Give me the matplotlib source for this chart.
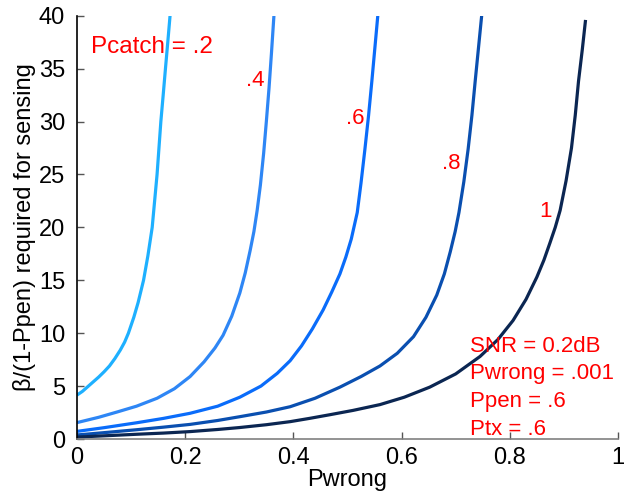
import matplotlib
matplotlib.use("Agg")
import matplotlib.pyplot as plt

plt.rcParams['font.family'] = ['Liberation Sans', 'DejaVu Sans']

# Data
pcatch_labels = ["Pcatch = .2", ".4", ".6", ".8", "1"]

x_02 = [0.0, 0.01, 0.02, 0.03, 0.04, 0.05, 0.06, 0.07, 0.08, 0.088, 0.095, 0.105, 0.113,
        0.123, 0.131, 0.139, 0.1435, 0.148, 0.1515, 0.155, 0.1593, 0.1635, 0.1678, 0.172]
y_02 = [4.15, 4.5, 4.95, 5.4, 5.85, 6.35, 6.9, 7.6, 8.4, 9.15, 10.0, 11.5, 12.9,
        15.0, 17.3, 20.0, 22.5, 25.0, 27.5, 30.0, 32.5, 35.0, 37.5, 40.0]

x_04 = [0.0, 0.04, 0.074, 0.11, 0.148, 0.18, 0.209, 0.235, 0.255, 0.270, 0.286, 0.301,
        0.311, 0.320, 0.327, 0.333, 0.339, 0.345, 0.350, 0.355, 0.3595, 0.364]
y_04 = [1.55, 2.05, 2.55, 3.1, 3.85, 4.75, 5.9, 7.3, 8.6, 9.8, 11.6, 13.8,
        15.7, 17.8, 19.6, 21.6, 24.0, 27.0, 30.0, 33.2, 36.5, 40.0]

x_06 = [0.0, 0.05, 0.111, 0.16, 0.209, 0.26, 0.301, 0.34, 0.37, 0.394, 0.415, 0.435,
        0.455, 0.471, 0.486, 0.497, 0.507, 0.518, 0.525, 0.532, 0.539, 0.545, 0.5505, 0.556]
y_06 = [0.72, 1.07, 1.54, 1.95, 2.43, 3.1, 3.95, 5.0, 6.2, 7.4, 8.8, 10.4,
        12.2, 13.9, 15.6, 17.2, 18.9, 21.4, 24.2, 27.3, 30.6, 33.8, 36.9, 40.0]

x_08 = [0.0, 0.05, 0.111, 0.16, 0.209, 0.26, 0.30, 0.35, 0.394, 0.44, 0.486, 0.525, 0.560,
        0.592, 0.622, 0.645, 0.665, 0.679, 0.690, 0.699, 0.706, 0.715, 0.723, 0.730,
        0.736, 0.742, 0.748]
y_08 = [0.38, 0.6, 0.88, 1.12, 1.38, 1.75, 2.1, 2.55, 3.05, 3.85, 4.9, 5.9, 6.9,
        8.1, 9.67, 11.5, 13.6, 15.6, 17.7, 19.6, 21.4, 24.3, 27.4, 30.6,
        33.8, 36.9, 40.0]

x_10 = [0.0, 0.05, 0.111, 0.16, 0.209, 0.26, 0.30, 0.35, 0.394, 0.43, 0.468, 0.51, 0.560,
        0.605, 0.652, 0.70, 0.745, 0.778, 0.806, 0.830, 0.850, 0.863, 0.874, 0.884,
        0.893, 0.904, 0.914, 0.921, 0.927, 0.934, 0.940]
y_10 = [0.18, 0.3, 0.45, 0.56, 0.7, 0.9, 1.08, 1.35, 1.64, 1.95, 2.3, 2.7, 3.25,
        3.95, 4.9, 6.15, 7.8, 9.4, 11.2, 13.2, 15.3, 16.9, 18.5, 20.0,
        21.6, 24.4, 27.5, 30.6, 33.8, 36.8, 39.6]

series = [(x_02, y_02), (x_04, y_04), (x_06, y_06), (x_08, y_08), (x_10, y_10)]
colors = ["#1EB0FF", "#2E86F5", "#0A6CFA", "#0A4FB0", "#0B2652"]

label_pos = [(0.026, 36.5), (0.312, 33.4), (0.498, 29.8), (0.674, 25.5), (0.855, 20.95)]
label_sizes = [17.5, 16, 16, 16, 16]

param_lines = ["SNR = 0.2dB", "Pwrong = .001", "Ppen = .6", "Ptx = .6"]
param_y = [8.25, 5.64, 3.0, 0.38]

xticks = [0, 0.2, 0.4, 0.6, 0.8, 1]
xticklabels = ["0", "0.2", "0.4", "0.6", "0.8", "1"]
yticks = [0, 5, 10, 15, 20, 25, 30, 35, 40]

fig = plt.figure(figsize=(6.41, 5.0), dpi=100)
ax = fig.add_axes([77/641, 1 - 439/500, (618-77)/641, (439-15.7)/500])

for (xs, ys), c in zip(series, colors):
    ax.plot(xs, ys, color=c, lw=2.3, solid_capstyle='butt', solid_joinstyle='round')

for txt, (lx, ly), fs in zip(pcatch_labels, label_pos, label_sizes):
    ax.text(lx, ly, txt, color="red", fontsize=fs, ha="left", va="baseline")

for txt, py in zip(param_lines, param_y):
    ax.text(0.727, py, txt, color="red", fontsize=16, ha="left", va="baseline")

ax.set_xlim(0, 1)
ax.set_ylim(0, 40)
ax.set_xticks(xticks)
ax.set_xticklabels(xticklabels)
ax.set_yticks(yticks)
ax.tick_params(direction="in", length=5, width=1, colors="#555555", labelcolor="black",
               labelsize=17)
ax.tick_params(axis="x", pad=6)
ax.tick_params(axis="y", pad=8.5)
ax.spines["top"].set_visible(False)
ax.spines["right"].set_visible(False)
ax.spines["left"].set_color("black")
ax.spines["left"].set_linewidth(1.2)
ax.spines["bottom"].set_color("#808080")
ax.spines["bottom"].set_linewidth(1.2)

ax.set_xlabel("Pwrong", fontsize=17, labelpad=0)
ax.set_ylabel("β/(1-Ppen) required for sensing", fontsize=17, labelpad=2)

fig.savefig("out.png", dpi=100)
